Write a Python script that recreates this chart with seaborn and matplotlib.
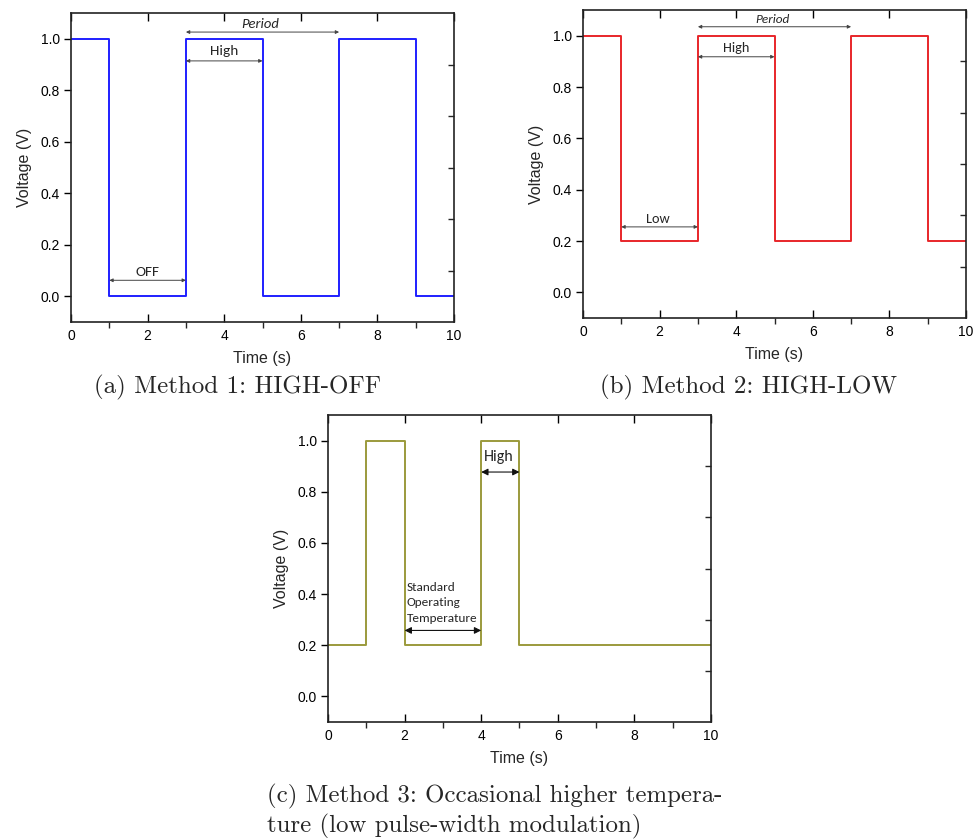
import numpy as np
import pandas as pd
import matplotlib
matplotlib.use("Agg")
import matplotlib.pyplot as plt
import seaborn as sns
from matplotlib.ticker import MultipleLocator, FixedLocator

# ---- data ----
time_a = [0, 1, 3, 5, 7, 9, 10]
volt_a = [1.0, 0.0, 1.0, 0.0, 1.0, 0.0, 0.0]
time_b = [0, 1, 3, 5, 7, 9, 10]
volt_b = [1.0, 0.2, 1.0, 0.2, 1.0, 0.2, 0.2]
time_c = [0, 1, 2, 4, 5, 10]
volt_c = [0.2, 1.0, 0.2, 1.0, 0.2, 0.2]

colors = ["#1f1fff", "#e8262a", "#9b9a3c"]
captions = ["(a) Method 1: HIGH-OFF", "(b) Method 2: HIGH-LOW",
            "(c) Method 3: Occasional higher tempera-", "ture (low pulse-width modulation)"]

sns.set_theme(style="ticks")
plt.rcParams["font.family"] = ["Liberation Sans", "DejaVu Sans"]

fig = plt.figure(figsize=(9.73, 8.39), dpi=100)
ax_a = fig.add_axes([0.073, 0.6162, 0.3936, 0.3683])
ax_b = fig.add_axes([0.5992, 0.621, 0.3936, 0.367])
ax_c = fig.add_axes([0.3371, 0.1394, 0.3936, 0.366])

ANN = ["Carlito", "Lato", "DejaVu Sans"]

def style(ax):
    ax.set_xlim(0, 10)
    ax.set_ylim(-0.1, 1.1)
    ax.xaxis.set_major_locator(MultipleLocator(2))
    ax.xaxis.set_minor_locator(FixedLocator([1, 3, 5, 7, 9]))
    ax.yaxis.set_major_locator(MultipleLocator(0.2))
    ax.yaxis.set_minor_locator(FixedLocator([0.1, 0.3, 0.5, 0.7, 0.9]))
    ax.yaxis.set_major_formatter(matplotlib.ticker.FormatStrFormatter("%.1f"))
    ax.tick_params(axis="x", which="major", direction="in", top=True, bottom=True,
                   length=6, width=1, labelsize=10, pad=5, colors="black")
    ax.tick_params(axis="x", which="minor", direction="out", top=False, bottom=True,
                   length=4, width=1)
    ax.tick_params(axis="y", which="major", direction="out", left=True, right=False,
                   length=5, width=1, labelsize=10, pad=3, colors="black")
    ax.tick_params(axis="y", which="minor", direction="in", left=False, right=True,
                   length=4, width=1)
    for s in ax.spines.values():
        s.set_visible(True)
        s.set_color("#222222")
        s.set_linewidth(1.2)
    ax.set_xlabel("Time (s)", fontsize=11.5, labelpad=6)
    ax.set_ylabel("Voltage (V)", fontsize=11.5, labelpad=6)

def arrow(ax, x0, x1, y, heavy=False):
    if heavy:
        ax.annotate("", xy=(x1, y), xytext=(x0, y),
                    arrowprops=dict(arrowstyle="<|-|>", color="#111111", lw=0.8,
                                    mutation_scale=10, shrinkA=0, shrinkB=0))
    else:
        ax.annotate("", xy=(x1, y), xytext=(x0, y),
                    arrowprops=dict(arrowstyle="<|-|>", color="#444444", lw=0.7,
                                    mutation_scale=5, shrinkA=0, shrinkB=0))

for ax, t, v, c in [(ax_a, time_a, volt_a, colors[0]),
                    (ax_b, time_b, volt_b, colors[1]),
                    (ax_c, time_c, volt_c, colors[2])]:
    df = pd.DataFrame({"t": t, "v": v})
    sns.lineplot(data=df, x="t", y="v", ax=ax, color=c, lw=1.4,
                 drawstyle="steps-post", sort=False, estimator=None)
    style(ax)

# (a) annotations
arrow(ax_a, 3, 7, 1.026)
ax_a.text(4.95, 1.058, "Period", ha="center", va="center", style="italic", fontsize=10.5, family=ANN)
arrow(ax_a, 3, 5, 0.914)
ax_a.text(4.0, 0.952, "High", ha="center", va="center", fontsize=11, family=ANN)
arrow(ax_a, 1, 3, 0.062)
ax_a.text(2.0, 0.095, "OFF", ha="center", va="center", fontsize=11, family=ANN)

# (b) annotations
arrow(ax_b, 3, 7, 1.035)
ax_b.text(4.95, 1.062, "Period", ha="center", va="center", style="italic", fontsize=9.5, family=ANN)
arrow(ax_b, 3, 5, 0.918)
ax_b.text(4.0, 0.952, "High", ha="center", va="center", fontsize=10.3, family=ANN)
arrow(ax_b, 1, 3, 0.255)
ax_b.text(1.95, 0.285, "Low", ha="center", va="center", fontsize=10.3, family=ANN)

# (c) annotations
arrow(ax_c, 4, 5, 0.877, heavy=True)
ax_c.text(4.47, 0.935, "High", ha="center", va="center", fontsize=11.5, family=ANN)
arrow(ax_c, 2, 4, 0.258, heavy=True)
ax_c.text(2.05, 0.285, "Standard\nOperating\nTemperature", ha="left", va="bottom",
          fontsize=9.5, family=ANN, linespacing=1.5)

# captions
CAP = ["cmr10", "DejaVu Serif"]
fig.text(238 / 973, 1 - 387 / 839, captions[0], ha="center", va="center", fontsize=18, family=CAP)
fig.text(749 / 973, 1 - 387 / 839, captions[1], ha="center", va="center", fontsize=18, family=CAP)
fig.text(267 / 973, 1 - 796 / 839, captions[2], ha="left", va="center", fontsize=17.9, family=CAP)
fig.text(267 / 973, 1 - 826 / 839, captions[3], ha="left", va="center", fontsize=17.9, family=CAP)

fig.savefig("out.png", dpi=100)
